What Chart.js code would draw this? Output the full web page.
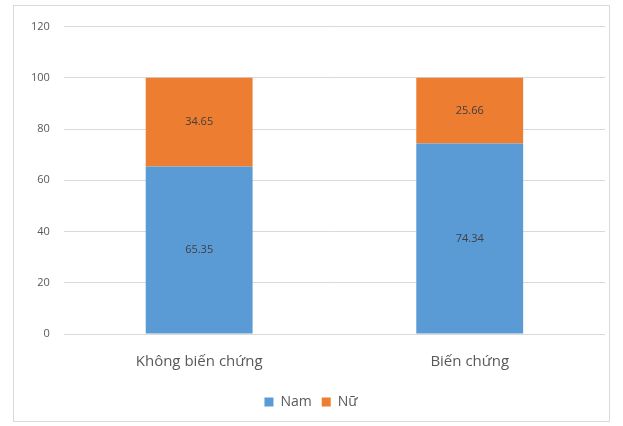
<!DOCTYPE html>
<html>
<head>
<meta charset="utf-8">
<script src="https://cdn.jsdelivr.net/npm/chart.js@4.4.0/dist/chart.umd.min.js"></script>
<style>
  body { margin: 0; background: #fff; }
  #frame {
    position: absolute; left: 13px; top: 5px;
    width: 595px; height: 415px;
    border: 1px solid #d9d9d9;
  }
</style>
</head>
<body>
<div id="frame"><canvas id="chart"></canvas></div>
<script>
// số liệu
const categories = ['Không biến chứng', 'Biến chứng'];
const namValues = [65.35, 74.34];
const nuValues = [34.65, 25.66];
const seriesNames = ['Nam', 'Nữ'];

const fontFamily = '"Open Sans", "Liberation Sans", sans-serif';

// nhãn giá trị ở giữa mỗi khối
const barLabels = {
  id: 'barLabels',
  afterDatasetsDraw(chart) {
    const ctx = chart.ctx;
    ctx.save();
    ctx.font = '11px ' + fontFamily;
    ctx.fillStyle = '#404040';
    ctx.textAlign = 'center';
    ctx.textBaseline = 'middle';
    chart.data.datasets.forEach((ds, i) => {
      chart.getDatasetMeta(i).data.forEach((bar, j) => {
        const mid = (bar.y + bar.base) / 2;
        ctx.fillText(ds.data[j].toFixed(2), bar.x, mid);
      });
    });
    ctx.restore();
  }
};

const canvas = document.getElementById('chart');
canvas.width = 595;
canvas.height = 415;

new Chart(canvas.getContext('2d'), {
  type: 'bar',
  data: {
    labels: categories,
    datasets: [
      {
        label: seriesNames[0],
        data: namValues,
        backgroundColor: '#5b9bd5'
      },
      {
        label: seriesNames[1],
        data: nuValues,
        backgroundColor: '#ed7d31'
      }
    ]
  },
  options: {
    responsive: false,
    animation: false,
    devicePixelRatio: 1,
    layout: { padding: { top: 14, right: 4, left: 3, bottom: 2 } },
    datasets: {
      bar: { barPercentage: 0.395, categoryPercentage: 1 }
    },
    plugins: {
      legend: {
        position: 'bottom',
        labels: {
          boxWidth: 9, boxHeight: 9,
          color: '#595959',
          font: { size: 14, family: fontFamily },
          padding: 10
        }
      },
      tooltip: { enabled: false }
    },
    scales: {
      x: {
        stacked: true,
        grid: { display: false },
        border: { display: false },
        ticks: { color: '#595959', font: { size: 15, family: fontFamily }, padding: 11 },
        afterFit(scale) { scale.height += 3; }
      },
      y: {
        stacked: true,
        min: 0, max: 120,
        ticks: { stepSize: 20, color: '#595959', font: { size: 11, family: fontFamily }, padding: 14 },
        grid: { color: '#d9d9d9', drawTicks: false },
        border: { display: false }
      }
    }
  },
  plugins: [barLabels]
});
</script>
</body>
</html>
